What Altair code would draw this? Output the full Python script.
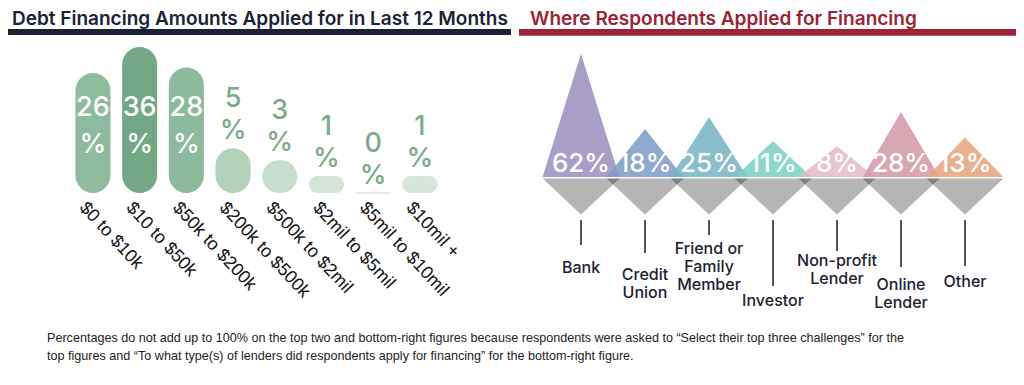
import altair as alt
import pandas as pd

# ---------------- data ----------------
left_title = "Debt Financing Amounts Applied for in Last 12 Months"
right_title = "Where Respondents Applied for Financing"
footnote_lines = [
    "Percentages do not add up to 100% on the top two and bottom-right figures because respondents were asked to \u201cSelect their top three challenges\u201d for the",
    "top figures and \u201cTo what type(s) of lenders did respondents apply for financing\u201d for the bottom-right figure.",
]

amount_ranges = ["$0 to $10k", "$10 to $50k", "$50k to $200k", "$200k to $500k",
                 "$500k to $2mil", "$2mil to $5mil", "$5mil to $10mil", "$10mil +"]
amount_pct = [26, 36, 28, 5, 3, 1, 0, 1]

lenders = ["Bank", "Credit\nUnion", "Friend or\nFamily\nMember", "Investor",
           "Non-profit\nLender", "Online\nLender", "Other"]
lender_pct = [62, 18, 25, 11, 8, 28, 13]

# ---------------- styles / layout ----------------
amount_colors = ["#8dbb9b", "#74a884", "#8cba9a", "#b1d1b9", "#c6dfcd", "#d2e6d8", "#c9ddcf", "#d4e7da"]
lender_colors = ["#9b8fbd", "#7e9bc6", "#77b3c4", "#7dcfc6", "#e2bcc7", "#d399a8", "#e6a47f"]
lender_rule_end = [245, 253, 235, 286, 251, 267, 266]
lender_label_y = [273, 280, 254, 306, 266, 290, 287]
footnote_y = [342, 360]

OX, OY = 8, 8
W, H = 1008, 369
TITLE_FONT = "Inter"
NUM_FONT = "Inter"
NAVY = "#1b2236"
MAROON = "#9b2335"
GREEN_TXT = "#7aab88"
HALF = 0.6       # half width of a triangle in category steps
BASE = -10       # triangle base level on the lender scale

Y_ID = alt.Scale(domain=[OY, OY + H], range=[0, H])

# ---------------- decoration ----------------
deco = pd.DataFrame({"t": [left_title, right_title]})
t_left = alt.Chart(deco).transform_filter(alt.datum.t == left_title).mark_text(
    font=TITLE_FONT, fontSize=19, fontWeight=600, color=NAVY, align="left", baseline="alphabetic"
).encode(x=alt.value(12 - OX), y=alt.value(24.5 - OY), text="t:N")
t_right = alt.Chart(deco).transform_filter(alt.datum.t == right_title).mark_text(
    font=TITLE_FONT, fontSize=19, fontWeight=600, color=MAROON, align="left", baseline="alphabetic"
).encode(x=alt.value(530 - OX), y=alt.value(24.5 - OY), text="t:N")
bar_left = alt.Chart(deco).mark_rect(color=NAVY).encode(
    x=alt.value(0 - OX), x2=alt.value(511 - OX), y=alt.value(29 - OY), y2=alt.value(35 - OY))
bar_right = alt.Chart(deco).mark_rect(color="#9e2236").encode(
    x=alt.value(519 - OX), x2=alt.value(1024 - OX), y=alt.value(29 - OY), y2=alt.value(35.5 - OY))

# ---------------- left: amounts ----------------
amt = pd.DataFrame({"range": amount_ranges, "pct": amount_pct})
xL = alt.X("range:N", axis=None,
           scale=alt.Scale(domain=amount_ranges, range=[69.6 - OX, 443.2 - OX],
                           paddingInner=0.25, paddingOuter=0.125))
yL = alt.Y("pct:Q", axis=None,
           scale=alt.Scale(type="pow", exponent=0.6, domain=[0, 36], range=[193 - OY, 47 - OY]))
colL = alt.Color("range:N", legend=None, scale=alt.Scale(domain=amount_ranges, range=amount_colors))

baseL = alt.Chart(amt)
bars = baseL.mark_bar(cornerRadius=17.5).encode(x=xL, y=yL, y2=alt.datum(0), color=colL)
zero = baseL.transform_filter("datum.pct == 0").mark_tick(thickness=1.5, size=35).encode(
    x=xL, y=yL, color=colL)
big = baseL.transform_filter("datum.pct >= 10")
big_num = big.mark_text(font=NUM_FONT, fontSize=27, fontWeight=500, color="white", baseline="middle").encode(
    x=xL, y=alt.value(108 - OY), text="pct:Q")
big_pc = big.mark_text(font=NUM_FONT, fontSize=27, fontWeight=500, color="white", baseline="middle").encode(
    x=xL, y=alt.value(145 - OY), text=alt.value("%"))
small = baseL.transform_filter("datum.pct < 10")
small_num = small.mark_text(font=NUM_FONT, fontSize=27, fontWeight=500, color=GREEN_TXT, baseline="middle",
                            dy=-49).encode(x=xL, y=yL, text="pct:Q")
small_pc = small.mark_text(font=NUM_FONT, fontSize=27, fontWeight=500, color=GREEN_TXT, baseline="middle",
                           dy=-17).encode(x=xL, y=yL, text=alt.value("%"))
xlab = baseL.mark_text(font="Liberation Sans", fontSize=18, color="#111111", angle=47,
                       align="left", baseline="top", xOffset=-4).encode(
    x=xL, y=alt.value(199 - OY), text="range:N")
left = alt.layer(bars, zero, big_num, big_pc, small_num, small_pc, xlab)

# ---------------- right: lenders ----------------
lend = pd.DataFrame({"lender": lenders, "pct": lender_pct, "idx": list(range(len(lenders)))})
tri_rows = []
for i, (name, v) in enumerate(zip(lenders, lender_pct)):
    tri_rows += [{"lender": name, "tx": i - HALF, "ty": BASE},
                 {"lender": name, "tx": i, "ty": v},
                 {"lender": name, "tx": i + HALF, "ty": BASE}]
tri = pd.DataFrame(tri_rows)

xR = alt.Scale(domain=[0, 6], range=[581 - OX, 965 - OX])
yR = alt.Scale(domain=[BASE, 62], range=[177 - OY, 40 - OY])
colR = alt.Color("lender:N", legend=None, scale=alt.Scale(domain=lenders, range=lender_colors))

areas = alt.Chart(tri).mark_area(opacity=0.86).encode(
    x=alt.X("tx:Q", scale=xR, axis=None),
    y=alt.Y("ty:Q", scale=yR, axis=None, stack=None),
    y2=alt.datum(BASE),
    color=colR,
)
step_px = (965 - 581) / 6
gray = alt.Chart(lend).mark_point(
    shape="M -1 0 L 1 0 L 0 0.94 Z", filled=True, color="black", opacity=0.29,
    size=(2 * HALF * step_px) ** 2, strokeWidth=0, yOffset=1.5
).encode(x=alt.X("idx:Q", scale=xR, axis=None), y=alt.datum(BASE))
vals = alt.Chart(lend).transform_calculate(lab="datum.pct + '%'").mark_text(
    font=NUM_FONT, fontSize=26, fontWeight=500, color="white", baseline="alphabetic", dy=-5
).encode(x=alt.X("idx:Q", scale=xR, axis=None), y=alt.datum(BASE), text="lab:N")
right = alt.layer(areas, gray, vals)

lab_df = pd.DataFrame({"lender": lenders, "idx": list(range(len(lenders))),
                       "top": [220] * len(lenders), "end": lender_rule_end, "ly": lender_label_y})
rules = alt.Chart(lab_df).mark_rule(color="#2a2a2a", strokeWidth=1.6).encode(
    x=alt.X("idx:Q", scale=xR, axis=None),
    y=alt.Y("top:Q", scale=Y_ID, axis=None), y2="end:Q")
names = alt.Chart(lab_df).mark_text(font=TITLE_FONT, fontSize=16, fontWeight=500, color="#1e2130",
                                     lineBreak="\n", lineHeight=18, align="center", baseline="alphabetic").encode(
    x=alt.X("idx:Q", scale=xR, axis=None),
    y=alt.Y("ly:Q", scale=Y_ID, axis=None), text="lender:N")
right_labels = alt.layer(rules, names)

# ---------------- footnote ----------------
foot = pd.DataFrame({"t": footnote_lines, "y": footnote_y})
foot_txt = alt.Chart(foot).mark_text(font="Liberation Sans", fontSize=12.6,
                                     color="#222222", align="left", baseline="alphabetic").encode(
    x=alt.value(47 - OX), y=alt.Y("y:Q", scale=Y_ID, axis=None), text="t:N")

chart = alt.layer(bar_left, bar_right, t_left, t_right, left, right, right_labels, foot_txt).resolve_scale(
    x="independent", y="independent", color="independent"
).properties(
    width=W, height=H, autosize=alt.AutoSizeParams(type="none"), padding=0
).configure_view(stroke=None)

chart.save("out.html", embed_options={"renderer": "svg", "actions": False})
